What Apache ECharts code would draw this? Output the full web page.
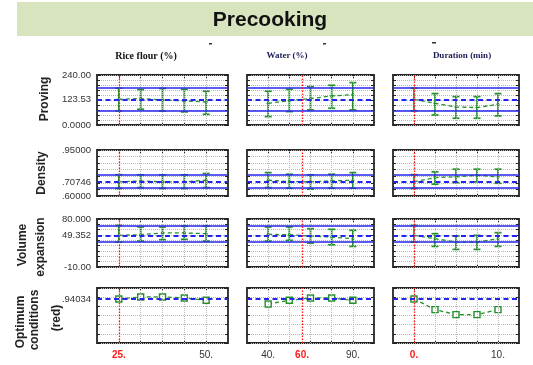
<!DOCTYPE html>
<html>
<head>
<meta charset="utf-8">
<script src="https://cdn.jsdelivr.net/npm/echarts@6/dist/echarts.min.js"></script>
<style>
  html, body { margin: 0; padding: 0; background: #fff; }
  #chart { width: 533px; height: 365px; }
</style>
</head>
<body>
<div id="chart"></div>
<script>
// ---- factor levels and current settings ----
const factorNames = ['Rice flour (%)', 'Water (%)', 'Duration (min)'];
const riceLevels = [25, 31.25, 37.5, 43.75, 50];
const waterLevels = [40, 52.5, 65, 77.5, 90];
const durationLevels = [0, 2.5, 5, 7.5, 10];
const currentSettings = [25, 60, 0];
const xTickValues = [[25, 50], [40, 60, 90], [0, 10]];

// ---- Proving ----
const provingMean = [[123.5, 126.7, 120.3, 115.5, 110.7], [104.3, 117.1, 126.7, 139.5, 146], [123.5, 104.3, 86.7, 83.5, 99.5]];
const provingLow  = [[67.5, 75.5, 67.5, 62.7, 51.5], [40.3, 64.3, 72.3, 80.3, 72.3], [67.5, 48.3, 32.3, 32.3, 43.5]];
const provingHigh = [[177, 170, 175.5, 171.5, 162], [162, 171.5, 184.3, 190.7, 203.5], [177, 150.7, 136.3, 136.3, 150.7]];
const provingCurrent = 123.53;
const provingBand = [67.5, 177];
const provingTicks = [0, 123.53, 240];
const provingTickLabels = ['0.0000', '123.53', '240.00'];

// ---- Density ----
const densityMean = [[0.7075, 0.715, 0.7075, 0.7075, 0.720], [0.720, 0.710, 0.7075, 0.715, 0.720], [0.7075, 0.740, 0.746, 0.758, 0.746]];
const densityLow  = [[0.657, 0.664, 0.657, 0.657, 0.664], [0.664, 0.659, 0.652, 0.659, 0.659], [0.657, 0.690, 0.702, 0.7075, 0.697]];
const densityHigh = [[0.762, 0.761, 0.761, 0.761, 0.771], [0.778, 0.766, 0.761, 0.766, 0.778], [0.762, 0.784, 0.804, 0.804, 0.804]];
const densityCurrent = 0.70746;
const densityBand = [0.657, 0.762];
const densityTicks = [0.6, 0.70746, 0.95];
const densityTickLabels = ['.60000', '.70746', '.95000'];

// ---- Volume expansion ----
const volumeMean = [[49.35, 50.6, 53.8, 53.8, 52.5], [51.2, 50.6, 48.1, 46.2, 43.1], [49.35, 43.1, 36.8, 36.8, 43.1]];
const volumeLow  = [[36.5, 38.7, 41.2, 41.8, 38.7], [38.7, 39.9, 34.9, 31.7, 28.6], [36.5, 28.6, 23.0, 23.0, 28.6]];
const volumeHigh = [[68, 65.1, 65.1, 67.0, 67.0], [65.1, 65.1, 61.9, 60.7, 58.8], [68, 52.5, 48.1, 49.35, 54.4]];
const volumeCurrent = 49.352;
const volumeBand = [36.5, 68];
const volumeTicks = [-10, 49.352, 80];
const volumeTickLabels = ['-10.00', '49.352', '80.000'];

// ---- Optimum conditions (desirability) ----
const optimumValues = [[0.9403, 0.9513, 0.9513, 0.9458, 0.9331], [0.9131, 0.9331, 0.9458, 0.9458, 0.9331], [0.9403, 0.8822, 0.8549, 0.8549, 0.8822]];
const optimumCurrent = 0.94034;
const optimumTicks = [0.94034];
const optimumTickLabels = ['.94034'];

// ---- layout ----
const levels = [riceLevels, waterLevels, durationLevels];
const xRanges = [[18.75, 56.25], [27.5, 102.5], [-2.5, 12.5]];
const colEdges = [[97, 228], [247, 374], [393, 519]];
const rowEdges = [[75, 125], [150, 196], [219, 267], [288, 343]];

const GREEN = '#24902a';
const BLUE = '#2424ee';
const RED = '#ff1a1a';
const GRIDLINE = { type: 'dotted', color: '#b8b8b8', width: 1 };

const responses = [
  { mean: provingMean, low: provingLow, high: provingHigh, current: provingCurrent,
    band: provingBand, range: [0, 240], step: 24, ticks: provingTicks, labels: provingTickLabels },
  { mean: densityMean, low: densityLow, high: densityHigh, current: densityCurrent,
    band: densityBand, range: [0.6, 0.95], step: 0.05, ticks: densityTicks, labels: densityTickLabels },
  { mean: volumeMean, low: volumeLow, high: volumeHigh, current: volumeCurrent,
    band: volumeBand, range: [-10, 80], step: 10, ticks: volumeTicks, labels: volumeTickLabels },
  { mean: optimumValues, current: optimumCurrent,
    range: [0.7, 1.0], step: 0.05, ticks: optimumTicks, labels: optimumTickLabels, squares: true }
];

// row titles, one rotated text per line: [text, x, y]
const rowTitles = [
  ['Proving', 45, 99],
  ['Density', 42, 173],
  ['Volume', 23, 245],
  ['expansion', 41, 247],
  ['Optimum', 21, 322],
  ['conditions', 35, 320],
  ['(red)', 57, 318]
];

const grids = [], xAxes = [], yAxes = [], series = [];

function errorBarItem(params, api) {
  const x = api.value(0);
  const pLo = api.coord([x, api.value(1)]);
  const pHi = api.coord([x, api.value(2)]);
  const cap = 3.5;
  const st = { stroke: GREEN, lineWidth: 1.7 };
  return {
    type: 'group',
    children: [
      { type: 'line', shape: { x1: pLo[0], y1: pLo[1], x2: pHi[0], y2: pHi[1] }, style: st },
      { type: 'line', shape: { x1: pLo[0] - cap, y1: pLo[1], x2: pLo[0] + cap, y2: pLo[1] }, style: st },
      { type: 'line', shape: { x1: pHi[0] - cap, y1: pHi[1], x2: pHi[0] + cap, y2: pHi[1] }, style: st }
    ]
  };
}

responses.forEach((resp, r) => {
  for (let c = 0; c < 3; c++) {
    const idx = r * 3 + c;
    grids.push({
      left: colEdges[c][0], top: rowEdges[r][0],
      width: colEdges[c][1] - colEdges[c][0], height: rowEdges[r][1] - rowEdges[r][0],
      show: true, borderColor: '#262626', borderWidth: 1.8, backgroundColor: '#fff'
    });

    const tickStyle = { show: true, inside: true, length: 3, customValues: levels[c], lineStyle: { color: '#222', width: 1 } };
    const cur = currentSettings[c];
    xAxes.push({
      gridIndex: idx, type: 'value', position: 'bottom', min: xRanges[c][0], max: xRanges[c][1],
      axisLine: { show: false, onZero: false }, axisTick: tickStyle,
      splitLine: { show: false },
      axisLabel: r === 3 ? {
        show: true, customValues: xTickValues[c], margin: 7,
        fontFamily: 'Arial', fontSize: 10, color: '#333',
        formatter: v => (Math.abs(Number(v) - cur) < 1e-9 ? '{r|' + v + '.}' : v + '.'),
        rich: { r: { color: RED, fontFamily: 'Arial', fontSize: 10, fontWeight: 'bold' } }
      } : { show: false }
    });
    xAxes.push({
      gridIndex: idx, type: 'value', position: 'top', min: xRanges[c][0], max: xRanges[c][1],
      axisLine: { show: false, onZero: false }, axisTick: tickStyle, splitLine: { show: false }, axisLabel: { show: false }
    });

    yAxes.push({
      gridIndex: idx, type: 'value', position: 'left', min: resp.range[0], max: resp.range[1], interval: resp.step,
      axisLine: { show: false, onZero: false },
      axisTick: { show: true, inside: true, length: 3, lineStyle: { color: '#222' } },
      splitLine: { show: true, lineStyle: GRIDLINE },
      axisLabel: c === 0 ? {
        show: true, customValues: resp.ticks, margin: 6,
        fontFamily: 'Arial', fontSize: 9.5, color: '#333',
        formatter: v => {
          let best = 0;
          resp.ticks.forEach((t, i) => { if (Math.abs(t - v) < Math.abs(resp.ticks[best] - v)) best = i; });
          return resp.labels[best];
        }
      } : { show: false }
    });
    yAxes.push({
      gridIndex: idx, type: 'value', position: 'right', min: resp.range[0], max: resp.range[1], interval: resp.step,
      axisLine: { show: false, onZero: false },
      axisTick: { show: true, inside: true, length: 3, lineStyle: { color: '#222' } },
      splitLine: { show: false }, axisLabel: { show: false }
    });

    // vertical grid lines at each factor level
    series.push({
      type: 'line', xAxisIndex: idx * 2, yAxisIndex: idx * 2, data: [], z: 0, silent: true,
      markLine: { silent: true, symbol: 'none', label: { show: false }, animation: false,
        data: levels[c].map(x => ({ xAxis: x, lineStyle: GRIDLINE })) }
    });

    // reference lines: current prediction, its limits, current factor setting
    const refLines = [
      { yAxis: resp.current, lineStyle: { color: BLUE, type: [5, 3.5], width: 2 } }
    ];
    if (resp.band) {
      refLines.push({ yAxis: resp.band[0], lineStyle: { color: BLUE, type: 'solid', width: 1.6 } });
      refLines.push({ yAxis: resp.band[1], lineStyle: { color: BLUE, type: 'solid', width: 1.6 } });
    }
    refLines.push({ xAxis: cur, lineStyle: { color: RED, type: [1.5, 1.5], width: 1.3 } });

    series.push({
      type: 'line', xAxisIndex: idx * 2, yAxisIndex: idx * 2, data: [], z: 1, silent: true,
      markLine: { silent: true, symbol: 'none', label: { show: false }, animation: false, data: refLines }
    });

    if (resp.low) {
      series.push({
        type: 'custom', xAxisIndex: idx * 2, yAxisIndex: idx * 2, z: 3, silent: true,
        renderItem: errorBarItem,
        data: levels[c].map((x, i) => [x, resp.low[c][i], resp.high[c][i]])
      });
    }

    series.push({
      type: 'line', xAxisIndex: idx * 2, yAxisIndex: idx * 2, z: 4, silent: true,
      data: levels[c].map((x, i) => [x, resp.mean[c][i]]),
      lineStyle: { color: GREEN, type: [4, 3], width: 1.3 },
      symbol: resp.squares ? 'rect' : 'circle',
      symbolSize: resp.squares ? 6 : 3,
      itemStyle: resp.squares
        ? { color: '#fff', borderColor: GREEN, borderWidth: 1.4 }
        : { color: GREEN }
    });
  }
});

const graphic = [
  { type: 'rect', shape: { x: 17, y: 2, width: 516, height: 34 }, style: { fill: '#d7e4bd' }, z: -10 },
  { type: 'text', x: 270, y: 20, style: { text: 'Precooking', font: 'bold 21px Arial', fill: '#111', align: 'center', verticalAlign: 'middle' } },
  { type: 'text', x: 146, y: 56, style: { text: factorNames[0], font: 'bold 10px "Liberation Serif"', fill: '#111', align: 'center', verticalAlign: 'middle' } },
  { type: 'text', x: 287, y: 56, style: { text: factorNames[1], font: 'bold 9px "Liberation Serif"', fill: '#1c1c55', align: 'center', verticalAlign: 'middle' } },
  { type: 'text', x: 462, y: 56, style: { text: factorNames[2], font: 'bold 9px "Liberation Serif"', fill: '#1c1c55', align: 'center', verticalAlign: 'middle' } },
  { type: 'rect', shape: { x: 209, y: 43, width: 3, height: 1.5 }, style: { fill: '#333' } },
  { type: 'rect', shape: { x: 323, y: 43, width: 3, height: 1.5 }, style: { fill: '#333' } },
  { type: 'rect', shape: { x: 432, y: 42, width: 4, height: 1.5 }, style: { fill: '#333' } }
].concat(rowTitles.map(([text, x, y]) => ({
  type: 'text', x: x, y: y, rotation: Math.PI / 2,
  style: { text: text, font: 'bold 12px Arial', fill: '#222', align: 'center', verticalAlign: 'middle' }
})));

const chart = echarts.init(document.getElementById('chart'), null, { renderer: 'canvas' });
chart.setOption({
  animation: false,
  backgroundColor: '#fff',
  graphic: graphic,
  grid: grids,
  xAxis: xAxes,
  yAxis: yAxes,
  series: series
});
</script>
</body>
</html>
